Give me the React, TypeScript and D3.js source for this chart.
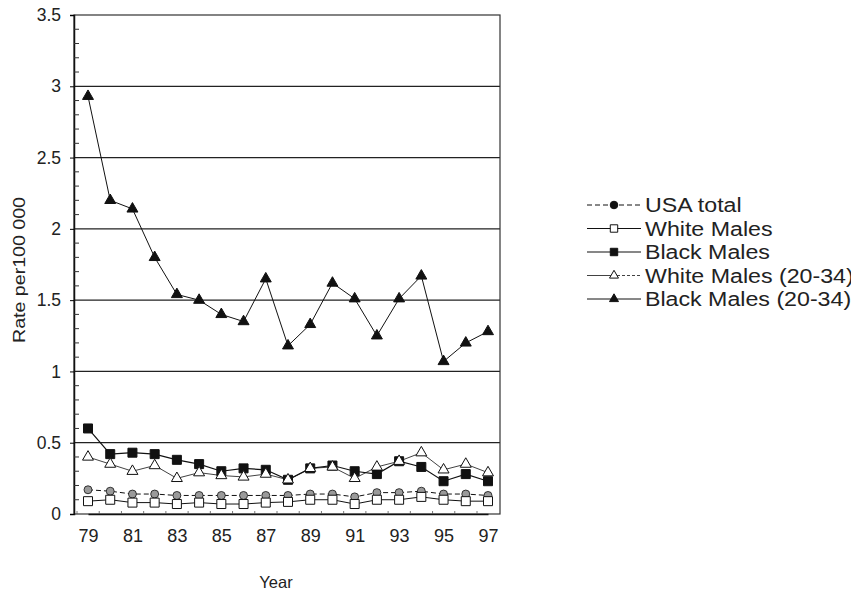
import React, { useRef, useEffect } from 'react';
import * as d3 from 'd3';

const years = ['79','80','81','82','83','84','85','86','87','88','89','90','91','92','93','94','95','96','97'];
const yearLabels = ['79','81','83','85','87','89','91','93','95','97'];
const yTicks = [0, 0.5, 1, 1.5, 2, 2.5, 3, 3.5];

const usaTotal = [0.17,0.16,0.14,0.14,0.13,0.13,0.13,0.13,0.13,0.13,0.14,0.14,0.12,0.15,0.15,0.16,0.14,0.14,0.13];
const whiteMales = [0.09,0.1,0.08,0.08,0.07,0.08,0.07,0.07,0.08,0.085,0.1,0.1,0.07,0.1,0.1,0.12,0.1,0.09,0.09];
const blackMales = [0.6,0.42,0.43,0.42,0.38,0.35,0.3,0.32,0.31,0.24,0.32,0.34,0.3,0.28,0.37,0.33,0.23,0.28,0.23];
const whiteMales2034 = [0.4,0.35,0.3,0.34,0.25,0.29,0.27,0.26,0.28,0.24,0.32,0.33,0.25,0.33,0.37,0.43,0.31,0.35,0.29];
const blackMales2034 = [2.93,2.2,2.14,1.8,1.54,1.5,1.4,1.35,1.65,1.18,1.33,1.62,1.51,1.25,1.51,1.67,1.07,1.2,1.28];

type Series = { name: string; values: number[]; marker: string; fill: string; dash: string; width: number };

const series: Series[] = [
  { name: 'USA total', values: usaTotal, marker: 'circle', fill: '#9a9a9a', dash: '5,3', width: 1 },
  { name: 'White Males', values: whiteMales, marker: 'square', fill: '#fff', dash: '', width: 1 },
  { name: 'Black Males', values: blackMales, marker: 'square', fill: '#111', dash: '', width: 1.2 },
  { name: 'White Males (20-34)', values: whiteMales2034, marker: 'triangle', fill: '#fff', dash: '', width: 0.8 },
  { name: 'Black Males (20-34)', values: blackMales2034, marker: 'triangle', fill: '#111', dash: '', width: 1 },
];

export default function App() {
  const ref = useRef<SVGSVGElement>(null);

  useEffect(() => {
    const svg = d3.select(ref.current);
    svg.selectAll('*').remove();
    const font = '"Liberation Sans", Arial, sans-serif';
    const left = 74, right = 500, top = 15, bottom = 514;

    const x = d3.scalePoint<string>().domain(years).range([88, 488]);
    const y = d3.scaleLinear().domain([0, 3.5]).range([bottom, top]);

    const g = svg.append('g');

    // gridlines
    g.selectAll('.grid')
      .data(yTicks.filter(d => d > 0 && d < 3.5))
      .join('line')
      .attr('x1', left).attr('x2', right)
      .attr('y1', d => y(d)).attr('y2', d => y(d))
      .attr('stroke', '#222').attr('stroke-width', 1.2);

    // frame
    g.append('rect')
      .attr('x', left).attr('y', top)
      .attr('width', right - left).attr('height', bottom - top)
      .attr('fill', 'none').attr('stroke', '#333').attr('stroke-width', 1.2);

    // y axis
    const yAxis = g.append('g')
      .attr('transform', `translate(${left},0)`)
      .call(d3.axisLeft(y).tickValues(yTicks).tickSize(4).tickFormat(d3.format('')));
    yAxis.select('.domain').attr('stroke', '#111').attr('stroke-width', 1.5);
    yAxis.selectAll('text').attr('font-family', font).attr('font-size', 17.5).attr('fill', '#222').attr('x', -13);
    const minor = d3.range(0, 3.5001, 0.1).filter(v => Math.abs(v * 2 - Math.round(v * 2)) > 0.01);
    g.selectAll('.minor')
      .data(minor)
      .join('line')
      .attr('x1', left).attr('x2', left + 5)
      .attr('y1', d => y(d)).attr('y2', d => y(d))
      .attr('stroke', '#333').attr('stroke-width', 1);

    // x axis
    const xAxis = g.append('g')
      .attr('transform', `translate(0,${bottom})`)
      .call(d3.axisBottom(x).tickValues(yearLabels).tickSize(0).tickPadding(15));
    xAxis.select('.domain').attr('stroke', '#111').attr('stroke-width', 1.5);
    xAxis.selectAll('text').attr('font-family', font).attr('font-size', 18).attr('fill', '#222');
    g.selectAll('.xtick')
      .data(years)
      .join('line')
      .attr('x1', d => (x(d) as number) - 11).attr('x2', d => (x(d) as number) - 11)
      .attr('y1', bottom).attr('y2', bottom - 3)
      .attr('stroke', '#555').attr('stroke-width', 0.8);

    const markerPath = (m: string) => {
      if (m === 'circle') return d3.symbol(d3.symbolCircle, 50)();
      if (m === 'square') return d3.symbol(d3.symbolSquare, 81)();
      return d3.symbol(d3.symbolTriangle, 52)();
    };

    // series
    series.forEach(s => {
      const line = d3.line<number>()
        .x((_, i) => x(years[i]) as number)
        .y(d => y(d));
      g.append('path')
        .datum(s.values)
        .attr('d', line)
        .attr('fill', 'none')
        .attr('stroke', '#111')
        .attr('stroke-width', s.width)
        .attr('stroke-dasharray', s.dash || null);
      g.selectAll(null)
        .data(s.values)
        .join('path')
        .attr('d', markerPath(s.marker))
        .attr('transform', (d, i) => `translate(${x(years[i])},${y(d)})`)
        .attr('fill', s.fill)
        .attr('stroke', '#111')
        .attr('stroke-width', s.marker === 'circle' ? 0.8 : 1);
    });

    // axis titles
    svg.append('text')
      .attr('x', 276).attr('y', 588)
      .attr('text-anchor', 'middle')
      .attr('font-family', font).attr('font-size', 16.5).attr('fill', '#222')
      .text('Year');
    svg.append('text')
      .attr('transform', 'translate(25,270) rotate(-90)')
      .attr('text-anchor', 'middle')
      .attr('font-family', font).attr('font-size', 16).attr('fill', '#222')
      .attr('textLength', 146).attr('lengthAdjust', 'spacingAndGlyphs')
      .text('Rate per100 000');

    // legend
    const lg = svg.append('g').attr('transform', 'translate(587,205)');
    series.forEach((s, i) => {
      const row = lg.append('g').attr('transform', `translate(0,${i * 23.5})`);
      if (s.name === 'White Males (20-34)') {
        row.append('line').attr('x1', 0).attr('x2', 24).attr('y1', 0).attr('y2', 0)
          .attr('stroke', '#111').attr('stroke-width', 0.8);
        row.append('line').attr('x1', 30).attr('x2', 54).attr('y1', 0).attr('y2', 0)
          .attr('stroke', '#111').attr('stroke-width', 0.8).attr('stroke-dasharray', '3,2');
      } else {
        row.append('line').attr('x1', 0).attr('x2', 54).attr('y1', 0).attr('y2', 0)
          .attr('stroke', '#111').attr('stroke-width', s.width)
          .attr('stroke-dasharray', s.dash || null);
      }
      const legendMarker = s.marker === 'circle' ? d3.symbol(d3.symbolCircle, 45)()
        : s.marker === 'square' ? d3.symbol(d3.symbolSquare, 55)()
        : d3.symbol(d3.symbolTriangle, 35)();
      row.append('path')
        .attr('d', legendMarker)
        .attr('transform', 'translate(27,0)')
        .attr('fill', s.marker === 'circle' ? '#111' : s.fill)
        .attr('stroke', '#111').attr('stroke-width', 1);
      row.append('text')
        .attr('transform', 'translate(58,7) scale(1.16,1)')
        .attr('font-family', font).attr('font-size', 20).attr('fill', '#222')
        .text(s.name);
    });
  }, []);

  return <svg ref={ref} width={859} height={592} style={{ display: 'block', margin: '-8px 0 0 -8px' }} role="img" aria-label="Line chart"></svg>;
}
